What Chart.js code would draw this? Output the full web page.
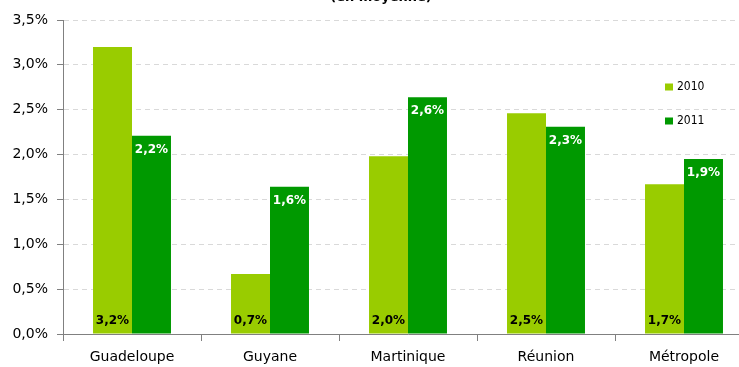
<!DOCTYPE html>
<html>
<head>
<meta charset="utf-8">
<script src="https://cdn.jsdelivr.net/npm/chart.js@4/dist/chart.umd.min.js"></script>
<style>
html,body{margin:0;padding:0;background:#fff;overflow:hidden;width:739px;height:367px;}
#wrap{position:absolute;left:0;top:0;width:753px;height:367px;}
</style>
</head>
<body>
<div id="wrap"><canvas id="c" width="753" height="367"></canvas></div>
<script>
const titleText = "(en moyenne)";
const categories = ["Guadeloupe", "Guyane", "Martinique", "Réunion", "Métropole"];
const seriesNames = ["2010", "2011"];
const values2010 = [3.2, 0.67, 1.98, 2.46, 1.67];
const values2011 = [2.21, 1.64, 2.64, 2.31, 1.95];
const labels2010 = ["3,2%", "0,7%", "2,0%", "2,5%", "1,7%"];
const labels2011 = ["2,2%", "1,6%", "2,6%", "2,3%", "1,9%"];
const colors = ["#99cc00", "#009900"];

const FONT = "'DejaVu Sans', Verdana, sans-serif";

const overlay = {
  id: 'overlay',
  afterDatasetsDraw(chart) {
    const ctx = chart.ctx;
    ctx.save();
    ctx.font = "bold 12px " + FONT;
    ctx.textAlign = 'center';
    ctx.textBaseline = 'middle';
    const m0 = chart.getDatasetMeta(0), m1 = chart.getDatasetMeta(1);
    const base = chart.scales.y.getPixelForValue(0);
    m0.data.forEach((bar, i) => {
      ctx.fillStyle = '#000';
      ctx.fillText(labels2010[i], bar.x, base - 13);
    });
    m1.data.forEach((bar, i) => {
      ctx.fillStyle = '#fff';
      ctx.fillText(labels2011[i], bar.x, bar.y + 14);
    });
    ctx.restore();
  },
  afterDraw(chart) {
    const ctx = chart.ctx;
    ctx.save();
    // title (mostly clipped at the top)
    ctx.font = "bold 13px " + FONT;
    ctx.fillStyle = '#000';
    ctx.textAlign = 'center';
    ctx.textBaseline = 'alphabetic';
    ctx.fillText(titleText, 381, 1);
    // legend
    ctx.font = "12px 'DejaVu Sans Condensed', " + FONT;
    ctx.textAlign = 'left';
    ctx.textBaseline = 'middle';
    const ys = [87, 121];
    seriesNames.forEach((n, i) => {
      ctx.fillStyle = colors[i];
      ctx.fillRect(665, ys[i] - 3.5, 8, 7);
      ctx.fillStyle = '#000';
      ctx.fillText(n, 677, ys[i]);
    });
    ctx.restore();
  }
};

new Chart(document.getElementById('c'), {
  type: 'bar',
  data: {
    labels: categories,
    datasets: [
      { label: seriesNames[0], data: values2010, backgroundColor: colors[0], borderWidth: 0 },
      { label: seriesNames[1], data: values2011, backgroundColor: colors[1], borderWidth: 0 }
    ]
  },
  options: {
    responsive: false,
    devicePixelRatio: 1,
    animation: false,
    layout: { padding: { top: 20, left: 0, right: 0, bottom: 0 } },
    datasets: { bar: { categoryPercentage: 0.565, barPercentage: 1.0 } },
    plugins: { legend: { display: false }, tooltip: { enabled: false }, title: { display: false } },
    scales: {
      x: {
        offset: true,
        grid: { display: true, drawOnChartArea: false, drawTicks: true, tickLength: 7, offset: true, color: '#808080', tickColor: '#808080' },
        border: { display: true, color: '#808080', width: 1 },
        ticks: { color: '#000', font: { family: FONT, size: 14 }, padding: 8, maxRotation: 0, autoSkip: false },
        afterFit(s) { s.height = 33; }
      },
      y: {
        min: 0, max: 3.5,
        grid: { color: '#d9d9d9', tickLength: 6, tickColor: '#808080', tickBorderDash: [] },
        border: { display: true, color: '#808080', width: 1, dash: [5, 4] },
        ticks: {
          stepSize: 0.5, padding: 9, color: '#000', font: { family: FONT, size: 14 },
          callback: v => v.toFixed(1).replace('.', ',') + '%'
        },
        afterFit(s) { s.width = 63; }
      }
    }
  },
  plugins: [overlay]
});
</script>
</body>
</html>
